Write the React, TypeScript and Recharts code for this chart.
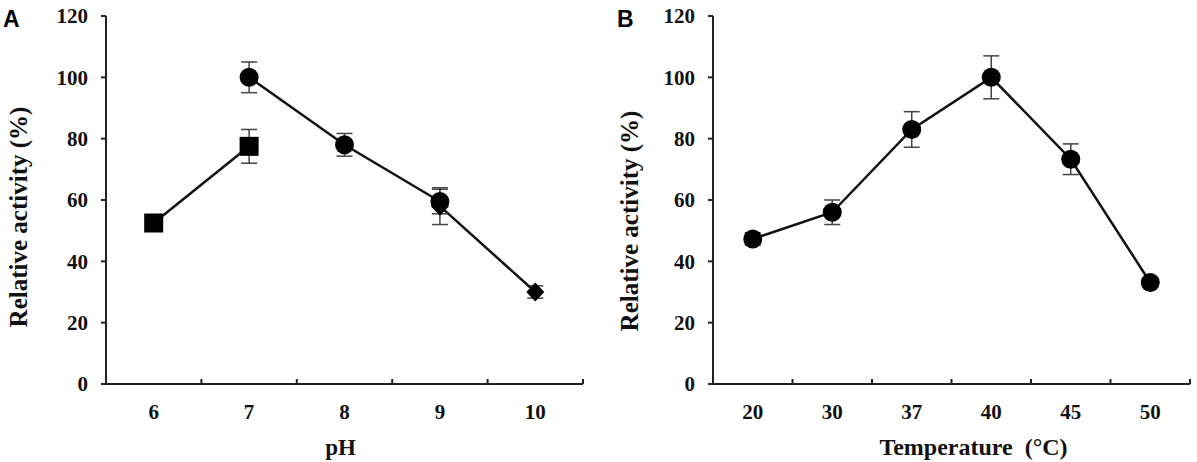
import React from 'react';
import { LineChart, Line, XAxis, YAxis, ErrorBar, Label } from 'recharts';

// ---------- Panel A (pH) ----------
const phTickLabels = ['6', '7', '8', '9', '10'];
const phPositions = [6, 7, 8, 9, 10];
const phTickMarks = [5.5, 6, 6.5, 7, 7.5, 8, 8.5, 9, 9.5, 10, 10.5];

const squareX = [6, 7];
const squareY = [52.5, 77.5];
const squareErr = [1.5, 5.5];

const circleX = [7, 8, 9];
const circleY = [100, 78, 59.5];
const circleErr = [5, 3.7, 4];

const diamondX = [9, 10];
const diamondY = [58, 30];
const diamondErr = [6, 2];

// ---------- Panel B (Temperature) ----------
const tempTickLabels = ['20', '30', '37', '40', '45', '50'];
const tempY = [47.3, 56, 83, 100, 73.3, 33.1];
const tempErr = [2, 4, 5.8, 7, 5, 1.5];
const tempTickMarks = [-0.5, 0, 0.5, 1, 1.5, 2, 2.5, 3, 3.5, 4, 4.5, 5, 5.5];

const yTicks = [0, 20, 40, 60, 80, 100, 120];

const squareData = squareX.map((x, i) => ({ x, y: squareY[i], e: squareErr[i] }));
const circleData = circleX.map((x, i) => ({ x, y: circleY[i], e: circleErr[i] }));
const diamondData = diamondX.map((x, i) => ({ x, y: diamondY[i], e: diamondErr[i] }));
const tempData = tempTickLabels.map((_, i) => ({ x: i, y: tempY[i], e: tempErr[i] }));

const SERIF = '"Liberation Serif", "Times New Roman", serif';
const SANS = '"Liberation Sans", Arial, sans-serif';
const INK = '#111';

const CircleDot = (p: any) => (
  <circle key={`c-${p.index}`} cx={p.cx} cy={p.cy} r={9.5} fill="#000" />
);
const SquareDot = (p: any) => (
  <rect key={`s-${p.index}`} x={p.cx - 9.5} y={p.cy - 9.5} width={19} height={19} fill="#000" />
);
const DiamondDot = (p: any) => (
  <path
    key={`d-${p.index}`}
    d={`M${p.cx},${p.cy - 9.5}L${p.cx + 9},${p.cy}L${p.cx},${p.cy + 9.5}L${p.cx - 9},${p.cy}Z`}
    fill="#000"
  />
);

function makeXTick(labelFor: (v: number) => string | null, minV: number) {
  return (props: any) => {
    const { x, y, payload, index } = props;
    const v = payload.value as number;
    const lbl = labelFor(v);
    if (lbl !== null) {
      return (
        <text
          key={`t-${index}`}
          x={x}
          y={y + 35}
          textAnchor="middle"
          fontFamily={SERIF}
          fontWeight="bold"
          fontSize={21}
          fill={INK}
        >
          {lbl}
        </text>
      );
    }
    if (v <= minV) return <g key={`t-${index}`} />;
    return <line key={`t-${index}`} x1={x} x2={x} y1={y} y2={y - 5} stroke="#222" strokeWidth={2} />;
  };
}

const phLabelFor = (v: number) => {
  const i = phPositions.indexOf(v);
  return i >= 0 ? phTickLabels[i] : null;
};
const tempLabelFor = (v: number) =>
  Number.isInteger(v) && v >= 0 && v < tempTickLabels.length ? tempTickLabels[v] : null;

const yTickStyle = { fill: INK, fontSize: 21, fontFamily: SERIF, fontWeight: 'bold' as const };

function YTitle(letter: string, letterX: number, titleX: number, titleDy: number) {
  return (props: any) => {
    const vb = props.viewBox || { x: 0, y: 16, width: 106, height: 368 };
    const cx = vb.x + titleX;
    const cy = vb.y + vb.height / 2 + titleDy;
    return (
      <g>
        <text x={vb.x + letterX} y={27} fontFamily={SANS} fontWeight="bold" fontSize={23} fill="#000">
          {letter}
        </text>
        <text
          x={cx}
          y={cy}
          transform={`rotate(-90 ${cx} ${cy})`}
          textAnchor="middle"
          dominantBaseline="central"
          fontFamily={SERIF}
          fontWeight="bold"
          fontSize={25}
          fill={INK}
        >
          Relative activity (%)
        </text>
      </g>
    );
  };
}

function XTitle(text: string, dx: number, size: number) {
  return (props: any) => {
    const vb = props.viewBox || { x: 0, y: 384, width: 477, height: 78 };
    return (
      <text
        x={vb.x + vb.width / 2 + dx}
        y={vb.y + 71}
        textAnchor="middle"
        fontFamily={SERIF}
        fontWeight="bold"
        fontSize={size}
        fill={INK}
        style={{ whiteSpace: 'pre' }}
      >
        {text}
      </text>
    );
  };
}

const lineProps = {
  type: 'linear' as const,
  dataKey: 'y',
  stroke: INK,
  strokeWidth: 2.5,
  isAnimationActive: false,
  activeDot: false as const,
};

const errProps = {
  dataKey: 'e',
  direction: 'y' as const,
  width: 8,
  stroke: '#444',
  strokeWidth: 1.5,
};

export default function App() {
  return (
    <div style={{ position: 'absolute', left: 0, top: 0, width: 1197, height: 462, background: '#fff' }}>
      <div style={{ position: 'absolute', left: 0, top: 0 }}>
        <LineChart width={600} height={462} margin={{ top: 16, right: 17, bottom: 0, left: 0 }}>
          <XAxis
            type="number"
            dataKey="x"
            domain={[5.5, 10.5]}
            ticks={phTickMarks}
            interval={0}
            allowDataOverflow
            height={78}
            tickLine={false}
            tickSize={0}
            tickMargin={0}
            axisLine={{ stroke: '#222', strokeWidth: 2 }}
            tick={makeXTick(phLabelFor, 5.5)}
          >
            <Label content={XTitle('pH', -4, 23)} />
          </XAxis>
          <YAxis
            type="number"
            domain={[0, 120]}
            ticks={yTicks}
            interval={0}
            width={106}
            tickSize={5}
            tickMargin={13}
            tickLine={{ stroke: '#222', strokeWidth: 2 }}
            axisLine={{ stroke: '#222', strokeWidth: 2 }}
            tick={yTickStyle}
          >
            <Label content={YTitle('A', 3, 18, 17)} />
          </YAxis>
          <Line {...lineProps} data={squareData} dot={SquareDot}>
            <ErrorBar {...errProps} />
          </Line>
          <Line {...lineProps} data={diamondData} dot={DiamondDot}>
            <ErrorBar {...errProps} />
          </Line>
          <Line {...lineProps} data={circleData} dot={CircleDot}>
            <ErrorBar {...errProps} />
          </Line>
        </LineChart>
      </div>
      <div style={{ position: 'absolute', left: 600, top: 0 }}>
        <LineChart width={597} height={462} margin={{ top: 16, right: 7, bottom: 0, left: 0 }}>
          <XAxis
            type="number"
            dataKey="x"
            domain={[-0.5, 5.5]}
            ticks={tempTickMarks}
            interval={0}
            allowDataOverflow
            height={78}
            tickLine={false}
            tickSize={0}
            tickMargin={0}
            axisLine={{ stroke: '#222', strokeWidth: 2 }}
            tick={makeXTick(tempLabelFor, -0.5)}
          >
            <Label content={XTitle('Temperature  (°C)', 22, 24)} />
          </XAxis>
          <YAxis
            type="number"
            domain={[0, 120]}
            ticks={yTicks}
            interval={0}
            width={113}
            tickSize={5}
            tickMargin={13}
            tickLine={{ stroke: '#222', strokeWidth: 2 }}
            axisLine={{ stroke: '#222', strokeWidth: 2 }}
            tick={yTickStyle}
          >
            <Label content={YTitle('B', 17, 29, 21)} />
          </YAxis>
          <Line {...lineProps} data={tempData} dot={CircleDot}>
            <ErrorBar {...errProps} />
          </Line>
        </LineChart>
      </div>
    </div>
  );
}
